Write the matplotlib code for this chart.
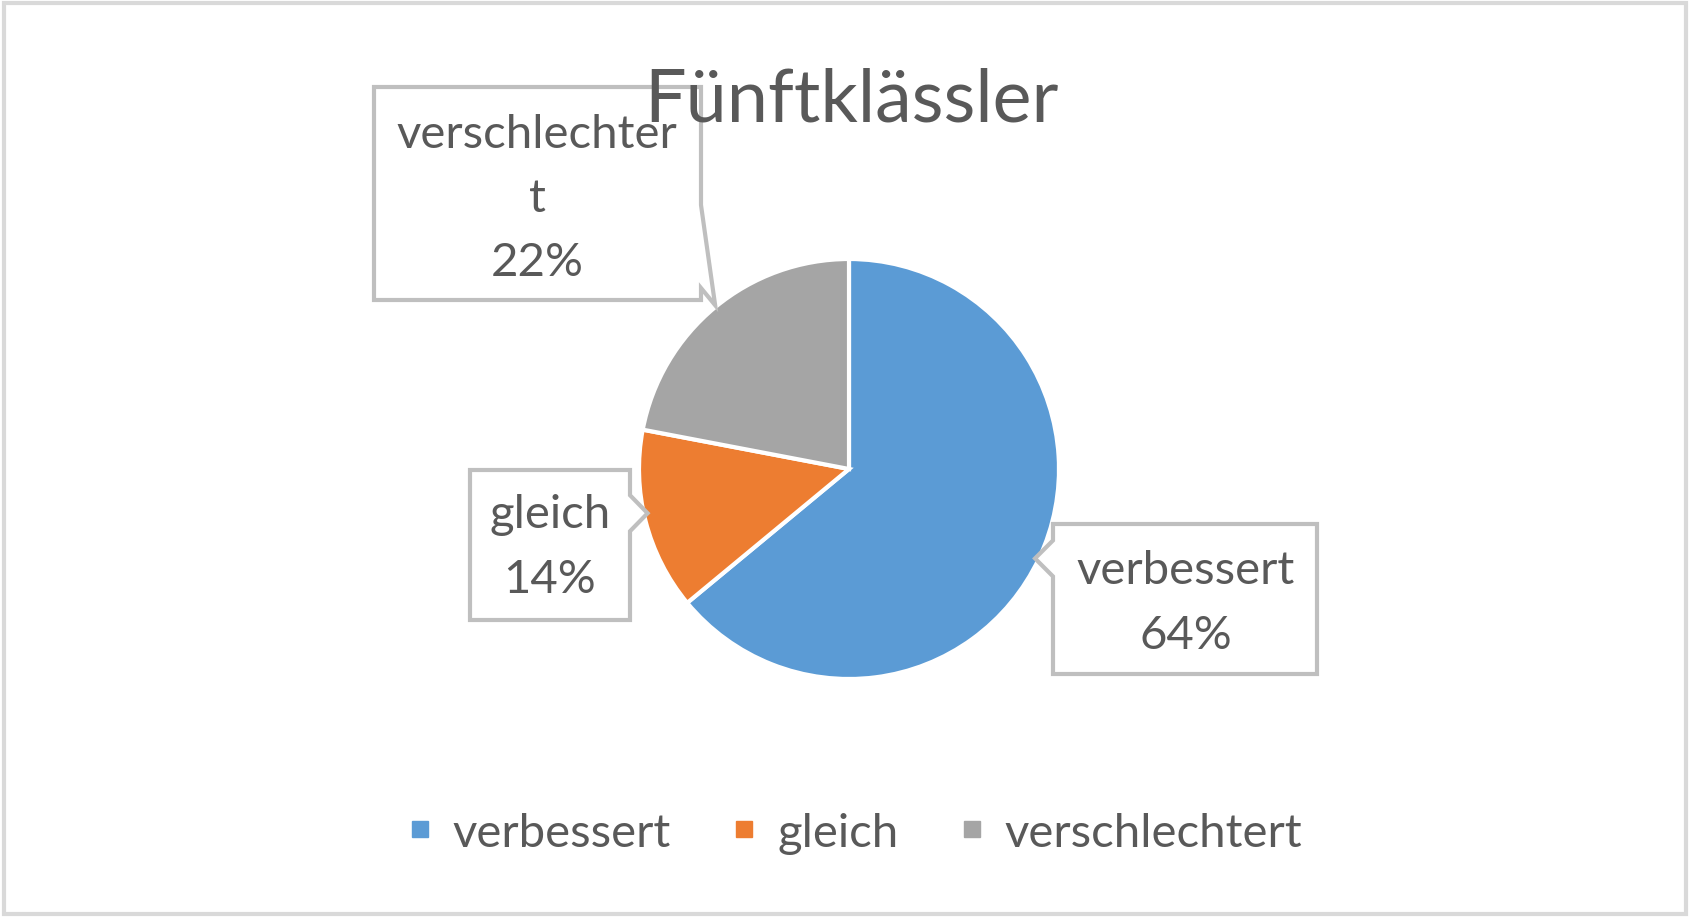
import numpy as np
import matplotlib
matplotlib.use("Agg")
from matplotlib import pyplot as plt
from matplotlib.patches import Polygon, Rectangle
from matplotlib.lines import Line2D

# data
categories = ["verbessert", "gleich", "verschlechtert"]
shares = [64, 14, 22]
colors = ["#5B9BD5", "#ED7D31", "#A5A5A5"]
title = "Fünftklässler"
box_lines = [["verbessert", "64%"], ["gleich", "14%"], ["verschlechter", "t", "22%"]]

text_color = "#595959"
font = ["Lato", "DejaVu Sans"]
plt.rcParams["font.family"] = font

W, H = 1690, 920
fig = plt.figure(figsize=(W / 100, H / 100), dpi=100)

# pie axes, centre (849, 470) px from top-left, radius 210 px
cx, cy, r = 849, 470, 210
ax = fig.add_axes([(cx - r) / W, (H - cy - r) / H, 2 * r / W, 2 * r / H])
wedges, _ = ax.pie(shares, colors=colors, startangle=90, counterclock=False,
                   wedgeprops=dict(edgecolor="white", linewidth=3))
ax.set_xlim(-1, 1)
ax.set_ylim(-1, 1)
ax.set_aspect("equal")
ax.axis("off")

# overlay in pixel coords (y down)
ov = fig.add_axes([0, 0, 1, 1], facecolor="none")
ov.set_xlim(0, W)
ov.set_ylim(H, 0)
ov.axis("off")

# outer border
ov.add_patch(Rectangle((4, 4), W - 8, H - 9, fill=False, edgecolor="#D9D9D9", linewidth=3))

ov.text(851, 101, title, ha="center", va="center", fontsize=53, color=text_color, zorder=6)


def tip_of(i):
    w = wedges[i]
    mid = np.deg2rad((w.theta1 + w.theta2) / 2)
    p = ax.transData.transform((np.cos(mid), np.sin(mid)))
    return ov.transData.inverted().transform(p)


# label boxes: (x0, y0, x1, y1), side of notch, text centre x, first line y, line step
boxes = [
    ((1053, 525, 1317, 675), "left", 1186, 571, 65),
    ((470, 471, 630, 621), "right", 550, 515, 65),
    ((374, 88, 701, 301), "right_tail", 537, 135, 64),
]

for i, (bx, side, tx, ty, step) in enumerate(boxes):
    x0, y0, x1, y1 = bx
    tx_, ty_ = tip_of(i)
    if side == "left":
        ny = ty_
        pts = [(x0, y0), (x1, y0), (x1, y1), (x0, y1), (x0, ny + 18), (tx_ - 4, ny), (x0, ny - 18)]
    elif side == "right":
        ny = ty_ - 8
        pts = [(x0, y0), (x1, y0), (x1, ny - 18), (tx_ + 2, ny), (x1, ny + 18), (x1, y1), (x0, y1)]
    else:
        pts = [(x0, y0), (x1, y0), (x1, y1 - 95), (tx_, ty_ - 2), (x1, y1 - 12), (x1, y1), (x0, y1)]
    ov.add_patch(Polygon(pts, closed=True, facecolor="white", edgecolor="#BFBFBF", linewidth=3, zorder=3))
    for k, line in enumerate(box_lines[i]):
        ov.text(tx, ty + k * step, line, ha="center", va="center", fontsize=34,
                color=text_color, zorder=4)

handles = [Line2D([], [], marker="s", linestyle="none", markersize=11,
                  markerfacecolor=c, markeredgecolor=c) for c in colors]
fig.legend(handles, categories, loc="center", bbox_to_anchor=(855 / W, 1 - 834 / H),
           ncol=3, frameon=False, fontsize=34, labelcolor=text_color,
           handlelength=0.5, handletextpad=0.45, columnspacing=1.3)

fig.savefig("out.png", dpi=100, facecolor="white")
